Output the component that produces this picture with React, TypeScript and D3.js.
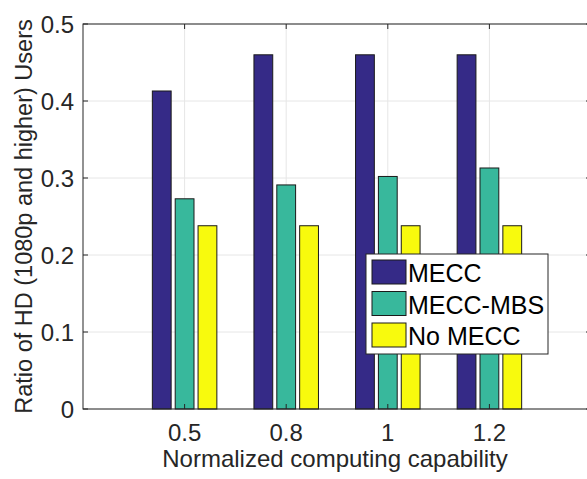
import React from "react";
import * as d3 from "d3";

// data
const categories = ["0.5", "0.8", "1", "1.2"];
const seriesNames = ["MECC", "MECC-MBS", "No MECC"];
const mecc = [0.413, 0.46, 0.46, 0.46];
const meccMbs = [0.273, 0.291, 0.302, 0.313];
const noMecc = [0.238, 0.238, 0.238, 0.238];
const yTicks = [0, 0.1, 0.2, 0.3, 0.4, 0.5];
const colors = ["#352a87", "#38b89c", "#f8fa0d"];

const W = 587;
const H = 479;
const margin = { left: 83, top: 24, right: -4, bottom: 70 };
const font = "'Liberation Sans', Arial, Helvetica, sans-serif";
const textColor = "#262626";

export default function App() {
  const series = [mecc, meccMbs, noMecc];
  const x = d3.scaleLinear().domain([0, 5]).range([margin.left, W - margin.right]);
  const y = d3.scaleLinear().domain([0, 0.5]).range([H - margin.bottom, margin.top]);
  const barW = 0.185;
  const offs = [-0.225, 0, 0.225];
  const x0 = x(0), x1 = x(5), y0 = y(0), y1 = y(0.5);
  const tickLen = 5;

  const legend = { x: 366, y: 254, w: 182, h: 100 };

  return (
    <svg
      width={W}
      height={H}
      style={{ position: "absolute", left: 0, top: 0, background: "#fff" }}
      fontFamily={font}
    >
      <rect x={0} y={0} width={W} height={H} fill="#fff" />
      {/* grid */}
      <g stroke="#e6e6e6" strokeWidth={1}>
        {yTicks.map((t) => (
          <line key={"gy" + t} x1={x0} x2={x1} y1={y(t)} y2={y(t)} />
        ))}
        {categories.map((c, i) => (
          <line key={"gx" + c} x1={x(i + 1)} x2={x(i + 1)} y1={y0} y2={y1} />
        ))}
      </g>
      {/* bars */}
      {series.map((vals, s) =>
        vals.map((v, i) => (
          <rect
            key={s + "-" + i}
            x={x(i + 1 + offs[s] - barW / 2)}
            y={y(v)}
            width={x(barW) - x(0)}
            height={y0 - y(v)}
            fill={colors[s]}
            stroke="#1a1a1a"
            strokeWidth={1}
          />
        ))
      )}
      {/* axes box */}
      <g stroke="#262626" strokeWidth={1} fill="none">
        <rect x={x0} y={y1} width={x1 - x0} height={y0 - y1} />
        {yTicks.map((t) => (
          <g key={"ty" + t}>
            <line x1={x0} x2={x0 + tickLen} y1={y(t)} y2={y(t)} />
            <line x1={x1} x2={x1 - tickLen} y1={y(t)} y2={y(t)} />
          </g>
        ))}
        {categories.map((c, i) => (
          <g key={"tx" + c}>
            <line x1={x(i + 1)} x2={x(i + 1)} y1={y0} y2={y0 - tickLen} />
            <line x1={x(i + 1)} x2={x(i + 1)} y1={y1} y2={y1 + tickLen} />
          </g>
        ))}
      </g>
      {/* tick labels */}
      <g fill={textColor} fontSize={24}>
        {yTicks.map((t) => (
          <text key={"ly" + t} x={x0 - 9} y={y(t)} dy="0.36em" textAnchor="end">
            {d3.format("")(t)}
          </text>
        ))}
        {categories.map((c, i) => (
          <text key={"lx" + c} x={x(i + 1)} y={441} textAnchor="middle">
            {c}
          </text>
        ))}
      </g>
      {/* axis labels */}
      <text
        x={335}
        y={467}
        textAnchor="middle"
        fontSize={24}
        fill={textColor}
      >
        Normalized computing capability
      </text>
      <text
        transform={`translate(32, ${(y0 + y1) / 2}) rotate(-90)`}
        textAnchor="middle"
        fontSize={23.5}
        fill={textColor}
      >
        Ratio of HD (1080p and higher) Users
      </text>
      {/* legend */}
      <g>
        <rect x={legend.x} y={legend.y} width={legend.w} height={legend.h} fill="#fff" stroke="#262626" strokeWidth={1} />
        {seriesNames.map((n, i) => (
          <g key={n}>
            <rect
              x={legend.x + 6}
              y={legend.y + 6 + i * 31.5}
              width={34}
              height={24}
              fill={colors[i]}
              stroke="#1a1a1a"
              strokeWidth={1}
            />
            <text x={legend.x + 42} y={legend.y + 28 + i * 31.5} fontSize={25} fill="#000">
              {n}
            </text>
          </g>
        ))}
      </g>
    </svg>
  );
}
